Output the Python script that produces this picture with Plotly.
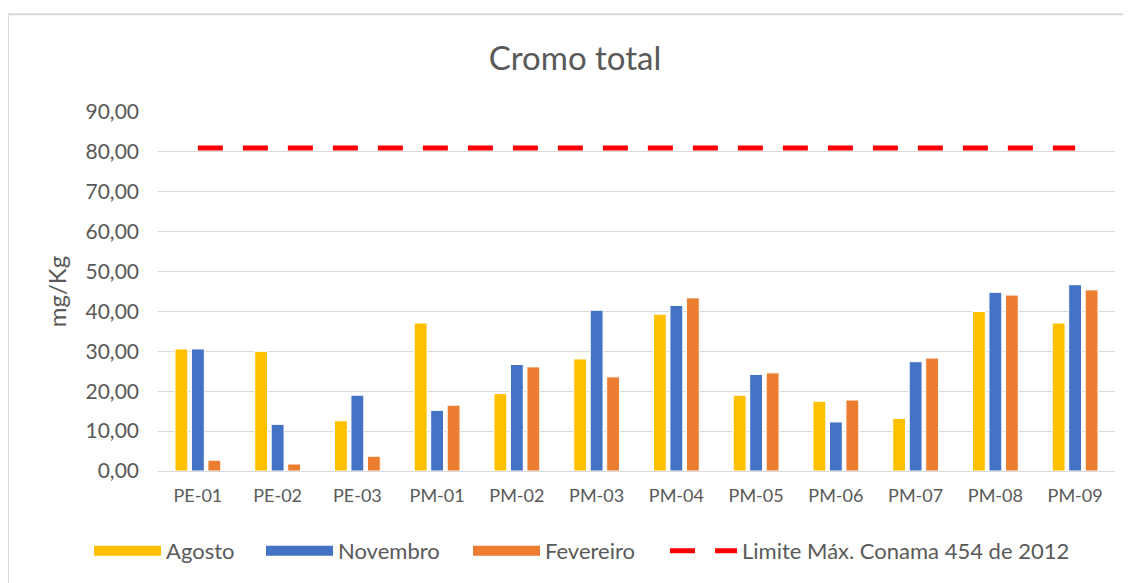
import plotly.graph_objects as go

categories = ["PE-01", "PE-02", "PE-03", "PM-01", "PM-02", "PM-03", "PM-04",
              "PM-05", "PM-06", "PM-07", "PM-08", "PM-09"]
agosto = [30.6, 30.0, 12.6, 37.1, 19.4, 28.1, 39.3, 19.0, 17.5, 13.2, 40.0, 37.1]
novembro = [30.6, 11.7, 19.0, 15.2, 26.7, 40.3, 41.5, 24.2, 12.3, 27.4, 44.8, 46.7]
fevereiro = [2.7, 1.75, 3.7, 16.5, 26.1, 23.6, 43.4, 24.6, 17.8, 28.3, 44.1, 45.4]
limite = [81.0] * len(categories)
y_ticks = [0, 10, 20, 30, 40, 50, 60, 70, 80, 90]
series_names = ["Agosto", "Novembro", "Fevereiro"]
limit_name = "Limite Máx. Conama 454 de 2012"

FONT = "Lato, 'Open Sans', sans-serif"
GRAY = "#595959"
COLORS = ["#FFC000", "#4472C4", "#ED7D31"]
LEGENDS = ["legend", "legend2", "legend3", "legend4"]
LEGEND_LEFT_PX = [89, 261, 468, 665]

fig = go.Figure()
for name, vals, col in zip(series_names, [agosto, novembro, fevereiro], COLORS):
    fig.add_trace(go.Bar(name=name, x=categories, y=vals, legendgroup=name,
                         showlegend=False,
                         marker=dict(color=col, line=dict(color="white", width=1))))
# legend entries with wide swatches
for name, col, lg in zip(series_names, COLORS, LEGENDS):
    fig.add_trace(go.Scatter(name=name, x=[None], y=[None], mode="lines",
                             legendgroup=name, showlegend=True, legend=lg,
                             line=dict(color=col, width=14)))
fig.add_trace(go.Scatter(name=limit_name, x=categories, y=limite, legend=LEGENDS[3],
                         mode="lines", line=dict(color="#FF0000", width=5, dash="25px,20px")))

# page is offset by the browser's 8px body margin
OFF = 8
W, H = 1131 - OFF, 583 - OFF
ml, mt = 158 - OFF, 112 - OFF
mr = W - (1115 - OFF)
mb = H - (472 - OFF)
pw, ph = W - ml - mr, H - mt - mb

def px_x(p):
    return (p - OFF - ml) / pw

def px_y(p):
    return (H - mb - (p - OFF)) / ph

legend_layouts = {}
for lg, lx in zip(LEGENDS, LEGEND_LEFT_PX):
    legend_layouts[lg] = dict(orientation="h", x=px_x(lx), xanchor="left",
                              y=px_y(551), yanchor="middle",
                              font=dict(size=22, color=GRAY, family=FONT),
                              itemwidth=67, bgcolor="rgba(0,0,0,0)")

fig.update_layout(
    width=W, height=H,
    margin=dict(l=ml, r=mr, t=mt, b=mb),
    paper_bgcolor="white", plot_bgcolor="white",
    font=dict(family=FONT, color=GRAY),
    separators=",.",
    title=dict(text="Cromo total", x=px_x(575), xref="paper", xanchor="center",
               yref="container", y=1 - (58 - OFF) / H, yanchor="middle",
               font=dict(size=33, color=GRAY, family=FONT)),
    barmode="group", bargap=0.38, bargroupgap=0.22,
    xaxis=dict(type="category", showgrid=False, showline=False, ticks="",
               ticklabelstandoff=12,
               tickfont=dict(size=18, color=GRAY, family=FONT)),
    yaxis=dict(range=[0, 90], tickvals=y_ticks, tickformat=".2f",
               showgrid=True, gridcolor="#D9D9D9", gridwidth=1,
               zeroline=True, zerolinecolor="#D9D9D9", zerolinewidth=1,
               ticks="", showline=False, ticklabelstandoff=18,
               tickfont=dict(size=21, color=GRAY, family=FONT),
               title=dict(text="mg/Kg", standoff=12,
                          font=dict(size=24, color=GRAY, family=FONT))),
    shapes=[dict(type="rect", xref="paper", yref="paper",
                 x0=px_x(8), x1=px_x(1145), y0=px_y(600), y1=px_y(14),
                 line=dict(color="#D9D9D9", width=2), fillcolor="rgba(0,0,0,0)",
                 layer="below")],
    **legend_layouts,
)

fig.write_html("out.html")
